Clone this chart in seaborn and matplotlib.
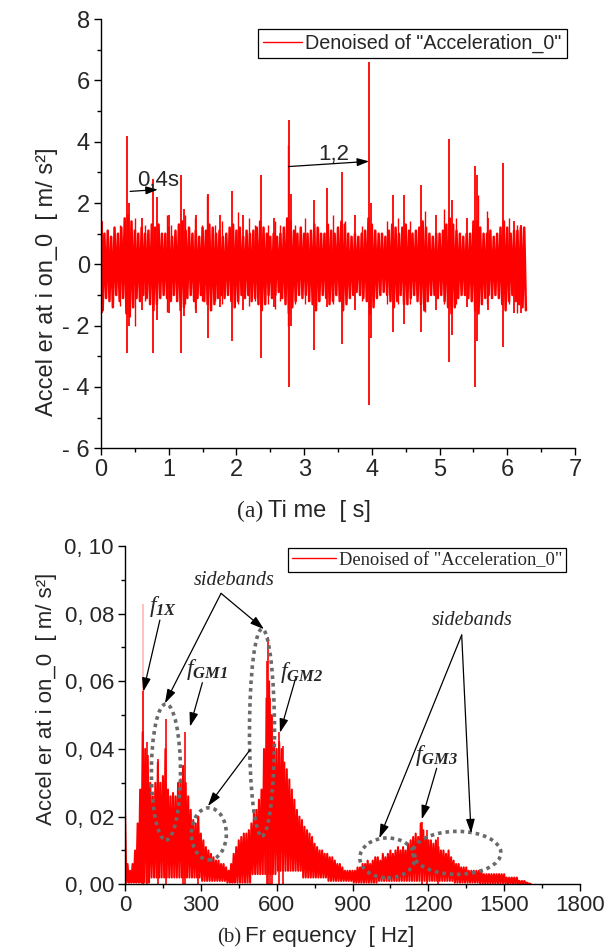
import numpy as np
import matplotlib
matplotlib.use("Agg")
import matplotlib.pyplot as plt
import seaborn as sns
from matplotlib.patches import Ellipse
from matplotlib.lines import Line2D
from matplotlib.ticker import MultipleLocator

sns.set_style("ticks")
plt.rcParams["font.family"] = ["Liberation Sans", "DejaVu Sans"]
plt.rcParams["mathtext.fontset"] = "custom"
plt.rcParams["mathtext.rm"] = "Liberation Serif"
plt.rcParams["mathtext.it"] = "Liberation Serif:italic"
plt.rcParams["mathtext.bf"] = "Liberation Serif:bold"
plt.rcParams["mathtext.bfit"] = "Liberation Serif:italic:bold"

# ---------------- (a) time signal ----------------
time_step = 0.05
core_hi = [1.3, 1.0, 1.1, 0.9, 1.2, 1.0, 1.2, 1.5, 1.6, 1.4,
           1.1, 1.0, 1.2, 1.0, 1.1, 1.3, 1.2, 1.3, 1.0, 1.0,
           1.2, 0.9, 1.1, 1.3, 1.4, 1.1, 1.2, 1.0, 1.1, 0.9,
           1.2, 1.1, 1.3, 1.2, 1.0, 1.1, 0.9, 1.0, 1.2, 1.3,
           1.1, 1.2, 0.9, 1.1, 1.0, 1.1, 1.2, 1.4, 1.2, 1.0,
           0.9, 1.0, 0.9, 1.0, 1.2, 1.5, 1.4, 1.1, 1.0, 1.2,
           1.0, 1.0, 1.1, 1.3, 1.2, 1.0, 1.0, 1.3, 1.1, 1.0,
           1.2, 1.4, 1.3, 1.0, 0.9, 1.0, 0.9, 1.0, 1.1, 1.5,
           1.3, 1.1, 1.0, 1.0, 0.9, 1.1, 1.3, 1.2, 1.0, 1.2,
           1.3, 1.1, 1.0, 1.1, 1.2, 1.4, 1.2, 1.0, 0.9, 1.0,
           1.0, 1.1, 1.3, 1.5, 1.3, 1.1, 1.0, 0.9, 1.0, 1.0,
           1.4, 1.4, 1.2, 1.0, 1.0, 1.1, 0.9, 1.0, 1.2, 1.4,
           1.2, 1.0, 1.1, 1.1, 1.2, 1.2]
core_lo = [-1.5, -1.1, -1.2, -1.4, -1.0, -1.2, -1.1, -1.6, -1.7, -1.4,
           -1.1, -1.2, -1.0, -1.1, -1.3, -1.5, -1.3, -1.1, -1.0, -1.1,
           -1.2, -1.0, -1.2, -1.5, -1.4, -1.1, -1.0, -1.2, -1.1, -1.0,
           -1.2, -1.3, -1.5, -1.3, -1.1, -1.0, -1.1, -1.0, -1.2, -1.4,
           -1.2, -1.0, -1.1, -1.0, -1.2, -1.1, -1.3, -1.5, -1.3, -1.0,
           -1.1, -1.0, -0.9, -1.1, -1.3, -1.6, -1.4, -1.2, -1.0, -1.1,
           -1.0, -1.2, -1.3, -1.5, -1.2, -1.0, -1.1, -1.3, -1.2, -1.0,
           -1.2, -1.5, -1.3, -1.1, -1.0, -0.9, -1.0, -1.1, -1.2, -1.6,
           -1.4, -1.1, -1.0, -0.9, -1.0, -1.2, -1.4, -1.2, -1.0, -1.3,
           -1.3, -1.1, -1.0, -1.2, -1.3, -1.5, -1.2, -1.0, -1.0, -1.1,
           -1.0, -1.2, -1.4, -1.6, -1.4, -1.1, -1.0, -1.0, -1.1, -1.2,
           -1.5, -1.6, -1.3, -1.1, -1.0, -1.1, -1.0, -1.1, -1.3, -1.5,
           -1.2, -1.0, -1.2, -1.3, -1.4, -1.5]
# large impact spikes
spike_t = [0.02, 0.39, 0.42, 0.60, 0.77, 0.83, 1.00, 1.18, 1.22, 1.40,
           1.585, 1.75, 1.93, 2.10, 2.37, 2.55, 2.77, 2.80, 3.14, 3.34,
           3.555, 3.75, 3.965, 3.99, 4.31, 4.48, 4.73, 4.95, 5.145, 5.19,
           5.40, 5.52, 5.55, 5.72, 5.93, 6.10, 6.20]
spike_hi = [1.4, 4.2, 2.0, 1.5, 2.8, 2.2, 1.6, 2.9, 1.8, 1.6,
            2.3, 1.6, 2.4, 1.6, 2.9, 1.5, 4.7, 2.3, 2.1, 2.5,
            3.0, 1.6, 6.6, 2.0, 2.25, 2.25, 2.6, 1.6, 4.1, 2.1,
            1.5, 3.2, 2.9, 1.5, 3.3, 1.4, 1.3]
spike_lo = [-1.6, -2.9, -2.0, -1.5, -2.9, -1.8, -1.6, -2.9, -1.7, -1.6,
            -2.4, -1.4, -2.5, -1.5, -3.05, -1.4, -4.0, -2.0, -2.8, -1.4,
            -2.6, -1.5, -4.6, -2.4, -2.2, -1.95, -2.2, -1.5, -3.2, -2.3,
            -1.4, -4.0, -2.5, -1.5, -2.7, -1.6, -1.6]
# smaller spikes in the noise band
small_t = [0.28, 0.50, 0.65, 0.97, 1.04, 1.24, 1.39, 1.49, 1.56, 1.68,
           1.78, 2.03, 2.18, 2.27, 2.47, 2.57, 2.64, 2.755, 2.87, 3.01,
           3.21, 3.43, 3.60, 3.85, 4.22, 4.38, 4.56, 4.79, 5.06, 5.25,
           5.57, 5.70, 6.03, 6.15]
small_hi = [1.3, 1.5, 1.3, 1.6, 1.3, 1.6, 1.5, 1.3, 2.25, 1.3,
            1.4, 1.7, 1.5, 1.3, 1.3, 1.4, 1.3, 3.9, 1.3, 1.5,
            1.2, 1.6, 1.4, 1.25, 1.4, 1.5, 1.4, 1.75, 1.8, 1.5,
            2.25, 1.75, 1.5, 1.3]
small_lo = [-1.35, -2.0, -1.2, -1.55, -1.2, -1.3, -1.45, -1.2, -1.3, -1.2,
            -1.3, -1.3, -1.35, -1.2, -1.3, -1.45, -1.2, -2.0, -1.3, -1.3,
            -1.2, -1.3, -1.0, -1.2, -1.3, -1.3, -1.3, -1.55, -1.3, -1.3,
            -1.55, -1.3, -1.3, -1.6]
time_ticks = [0, 1, 2, 3, 4, 5, 6, 7]
acc_ticks = [-6, -4, -2, 0, 2, 4, 6, 8]
acc_tick_labels = ["- 6", "- 4", "- 2", "0", "2", "4", "6", "8"]

# ---------------- (b) spectrum ----------------
freq_step = 10
spec_hi = [0.022, 0.006, 0.004, 0.006, 0.010, 0.018, 0.028, 0.045, 0.040, 0.038,
           0.030, 0.026, 0.030, 0.036, 0.030, 0.032, 0.040, 0.028, 0.026, 0.027,
           0.026, 0.030, 0.031, 0.035, 0.030, 0.026, 0.022, 0.019, 0.018, 0.020,
           0.015, 0.013, 0.011, 0.010, 0.009, 0.008, 0.007, 0.007, 0.006, 0.006,
           0.005, 0.004, 0.006, 0.009, 0.011, 0.013, 0.014, 0.015, 0.015, 0.016,
           0.018, 0.021, 0.022, 0.025, 0.028, 0.040, 0.055, 0.060, 0.050, 0.042,
           0.040, 0.042, 0.040, 0.036, 0.034, 0.031, 0.028, 0.025, 0.022, 0.020,
           0.019, 0.017, 0.016, 0.015, 0.014, 0.012, 0.011, 0.010, 0.010, 0.009,
           0.009, 0.008, 0.008, 0.007, 0.006, 0.006, 0.005, 0.004, 0.004, 0.004,
           0.004, 0.004, 0.005, 0.005, 0.006, 0.006, 0.007, 0.006, 0.007, 0.008,
           0.008, 0.007, 0.009, 0.008, 0.009, 0.010, 0.009, 0.010, 0.011, 0.010,
           0.011, 0.010, 0.012, 0.013, 0.014, 0.015, 0.014, 0.018, 0.016, 0.014,
           0.013, 0.013, 0.012, 0.013, 0.011, 0.010, 0.010, 0.009, 0.010, 0.008,
           0.007, 0.006, 0.006, 0.005, 0.005, 0.005, 0.004, 0.004, 0.004, 0.004,
           0.004, 0.004, 0.003, 0.003, 0.003, 0.003, 0.003, 0.003, 0.003, 0.003,
           0.003, 0.002, 0.002, 0.002, 0.002, 0.002, 0.001, 0.001, 0.001, 0.0005,
           0.0002]
# floor of the dense band, one value per 100 Hz
spec_floor = [0.0005, 0.002, 0.002, 0.001, 0.0005, 0.003, 0.004, 0.002, 0.001,
              0.0005, 0.001, 0.001, 0.001, 0.0005, 0.0003, 0.0002, 0.0001]
peak_f = [72, 88, 130, 161, 231, 237, 290, 560, 567, 574, 583, 609, 627, 1176, 1195, 1240]
peak_a = [0.057, 0.042, 0.037, 0.049, 0.035, 0.045, 0.020, 0.066, 0.073, 0.055,
          0.050, 0.045, 0.041, 0.0185, 0.016, 0.014]
faint_peak_f = [72]
faint_peak_a = [0.083]
freq_ticks = [0, 300, 600, 900, 1200, 1500, 1800]
amp_ticks = [0.00, 0.02, 0.04, 0.06, 0.08, 0.10]
amp_tick_labels = ["0, 00", "0, 02", "0, 04", "0, 06", "0, 08", "0, 10"]

legend_text = 'Denoised of "Acceleration_0"'

fig = plt.figure(figsize=(6.16, 9.51), dpi=100)
ax1 = fig.add_axes([101 / 616, 1 - 448.3 / 951, 474 / 616, 429.2 / 951])
ax2 = fig.add_axes([125 / 616, 1 - 884.3 / 951, 455 / 616, 338.3 / 951])

# ---- top plot
n = min(len(core_hi), len(core_lo))
t = np.arange(n) * time_step
zx = np.empty(2 * n)
zy = np.empty(2 * n)
zx[0::2] = t
zx[1::2] = t + time_step / 2
zy[0::2] = np.array(core_hi[:n])
zy[1::2] = np.array(core_lo[:n])
sns.lineplot(x=zx, y=zy, ax=ax1, color="red", lw=1.8, estimator=None, sort=False)
ax1.vlines(small_t, small_lo, small_hi, color="red", lw=1.0)
ax1.vlines(spike_t, spike_lo, spike_hi, color="red", lw=1.3)

ax1.set_xlim(0, 7)
ax1.set_ylim(-6, 8)
ax1.set_xticks(time_ticks)
ax1.set_xticklabels([str(v) for v in time_ticks])
ax1.set_yticks(acc_ticks)
ax1.set_yticklabels(acc_tick_labels)
ax1.xaxis.set_minor_locator(MultipleLocator(0.5))
ax1.yaxis.set_minor_locator(MultipleLocator(1))
for ax in (ax1, ax2):
    ax.spines["top"].set_visible(False)
    ax.spines["right"].set_visible(False)
    for s in ("left", "bottom"):
        ax.spines[s].set_linewidth(1.0)
        ax.spines[s].set_color("black")
    ax.tick_params(which="major", direction="out", length=5, width=1.0, color="black")
    ax.tick_params(which="minor", direction="out", length=3, width=1.0, color="black")
    ax.set_xlabel("")
    ax.set_ylabel("")
ax1.tick_params(axis="both", which="major", labelsize=17, pad=3)

arrow_kw = dict(arrowstyle="-|>,head_length=0.6,head_width=0.2", color="black",
                lw=0.9, mutation_scale=12, shrinkA=0, shrinkB=0)
ax1.annotate("", xy=(0.84, 2.44), xytext=(0.43, 2.38), arrowprops=arrow_kw, zorder=5)
ax1.text(0.53, 2.72, "0,4s", fontsize=16, ha="left", va="center", zorder=5)
ax1.annotate("", xy=(3.96, 3.36), xytext=(2.77, 3.19), arrowprops=arrow_kw, zorder=5)
ax1.text(3.43, 3.57, "1,2", fontsize=16, ha="center", va="center", zorder=5)

leg1 = ax1.legend(handles=[Line2D([], [], color="red", lw=1.0)], labels=[legend_text],
                  loc="upper left", bbox_to_anchor=(258 / 616, 1 - 29 / 951),
                  bbox_transform=fig.transFigure, frameon=True, fancybox=False,
                  framealpha=1, edgecolor="black", fontsize=14.2, handlelength=2.0,
                  handletextpad=0.15, borderpad=0.25, borderaxespad=0)
leg1.get_frame().set_linewidth(0.9)

# ---- bottom plot
m = len(spec_hi)
f = np.arange(m) * freq_step
floor = np.array([spec_floor[min(i * freq_step // 100, len(spec_floor) - 1)] for i in range(m)])
sx = np.empty(2 * m)
sy = np.empty(2 * m)
sx[0::2] = f
sx[1::2] = f + freq_step / 2
sy[0::2] = np.array(spec_hi)
sy[1::2] = floor
sns.lineplot(x=sx, y=sy, ax=ax2, color="red", lw=1.5, estimator=None, sort=False)
ax2.vlines(faint_peak_f, 0, faint_peak_a, color="red", lw=0.35)
ax2.vlines(peak_f, 0, peak_a, color="red", lw=1.2)

ax2.set_xlim(0, 1800)
ax2.set_ylim(0, 0.10)
ax2.set_xticks(freq_ticks)
ax2.set_xticklabels([str(v) for v in freq_ticks])
ax2.set_yticks(amp_ticks)
ax2.set_yticklabels(amp_tick_labels)
ax2.xaxis.set_minor_locator(MultipleLocator(150))
ax2.yaxis.set_minor_locator(MultipleLocator(0.01))
ax2.tick_params(axis="both", which="major", labelsize=16, pad=3)

ell_kw = dict(fill=False, ec="#6a6a6a", lw=2.6, ls=(0, (1, 1.1)), zorder=6)
for (cx, cy, w, h) in [(162, 0.0332, 115, 0.0402), (542, 0.0449, 99, 0.0612),
                       (332, 0.0149, 138, 0.0154), (1038, 0.0078, 218, 0.0118),
                       (1313, 0.0093, 348, 0.0127)]:
    ax2.add_patch(Ellipse((cx, cy), w, h, **ell_kw))

arrow_kw2 = dict(arrowstyle="-|>,head_length=0.7,head_width=0.22", color="black",
                 lw=0.9, mutation_scale=12, shrinkA=0, shrinkB=0)
serif_it = dict(family="Liberation Serif", style="italic", fontsize=14.5)
ax2.text(431, 0.0897, "sidebands", ha="center", va="center", zorder=7, **serif_it)
ax2.annotate("", xy=(158, 0.0535), xytext=(380, 0.0860), arrowprops=arrow_kw2, zorder=7)
ax2.annotate("", xy=(550, 0.0754), xytext=(380, 0.0860), arrowprops=arrow_kw2, zorder=7)
ax2.annotate("", xy=(328, 0.0231), xytext=(494, 0.0397), arrowprops=arrow_kw2, zorder=7)
ax2.text(1375, 0.0781, "sidebands", ha="center", va="center", zorder=7, **serif_it)
ax2.annotate("", xy=(1006, 0.0136), xytext=(1332, 0.0737), arrowprops=arrow_kw2, zorder=7)
ax2.annotate("", xy=(1369, 0.0151), xytext=(1332, 0.0737), arrowprops=arrow_kw2, zorder=7)

flabels = [(150, 0.0820, r"$f_{\mathbfit{1X}}$", (138, 0.0781), (72, 0.0569)),
           (324, 0.0635, r"$f_{\mathbfit{GM1}}$", (306, 0.0596), (257, 0.0466)),
           (698, 0.0626, r"$f_{\mathbfit{GM2}}$", (673, 0.0604), (613, 0.0448)),
           (1234, 0.0382, r"$f_{\mathbfit{GM3}}$", (1233, 0.0343), (1174, 0.0192))]
for (tx, ty, lab, a0, a1) in flabels:
    ax2.text(tx, ty, lab, fontsize=17, ha="center", va="center", zorder=7)
    ax2.annotate("", xy=a1, xytext=a0, arrowprops=arrow_kw2, zorder=7)

leg2 = ax2.legend(handles=[Line2D([], [], color="red", lw=1.0)], labels=[legend_text],
                  loc="upper left", bbox_to_anchor=(288 / 616, 1 - 548 / 951),
                  bbox_transform=fig.transFigure, frameon=True, fancybox=False,
                  framealpha=1, edgecolor="black", handlelength=2.4,
                  handletextpad=0.15, borderpad=0.2, borderaxespad=0,
                  prop=dict(family="Liberation Serif", size=13.3))
leg2.get_frame().set_linewidth(0.9)

# ---- axis titles
fig.text(263 / 616, 1 - 517 / 951, "(a)", family="Liberation Serif", fontsize=17,
         ha="right", va="baseline")
fig.text(268 / 616, 1 - 517 / 951, "Ti me  [ s]", fontsize=17, ha="left", va="baseline")
fig.text(241 / 616, 1 - 942 / 951, "(b)", family="Liberation Serif", fontsize=15,
         ha="right", va="baseline")
fig.text(245 / 616, 1 - 942 / 951, "Fr equency  [ Hz]", fontsize=16, ha="left", va="baseline")
fig.text(47 / 616, 1 - 282 / 951, "Accel er at i on_0  [ m/ s²]", fontsize=17,
         rotation=90, ha="center", va="center")
fig.text(47 / 616, 1 - 699 / 951, "Accel er at i on_0  [ m/ s²]", fontsize=16,
         rotation=90, ha="center", va="center")

fig.savefig("out.png", dpi=100)
